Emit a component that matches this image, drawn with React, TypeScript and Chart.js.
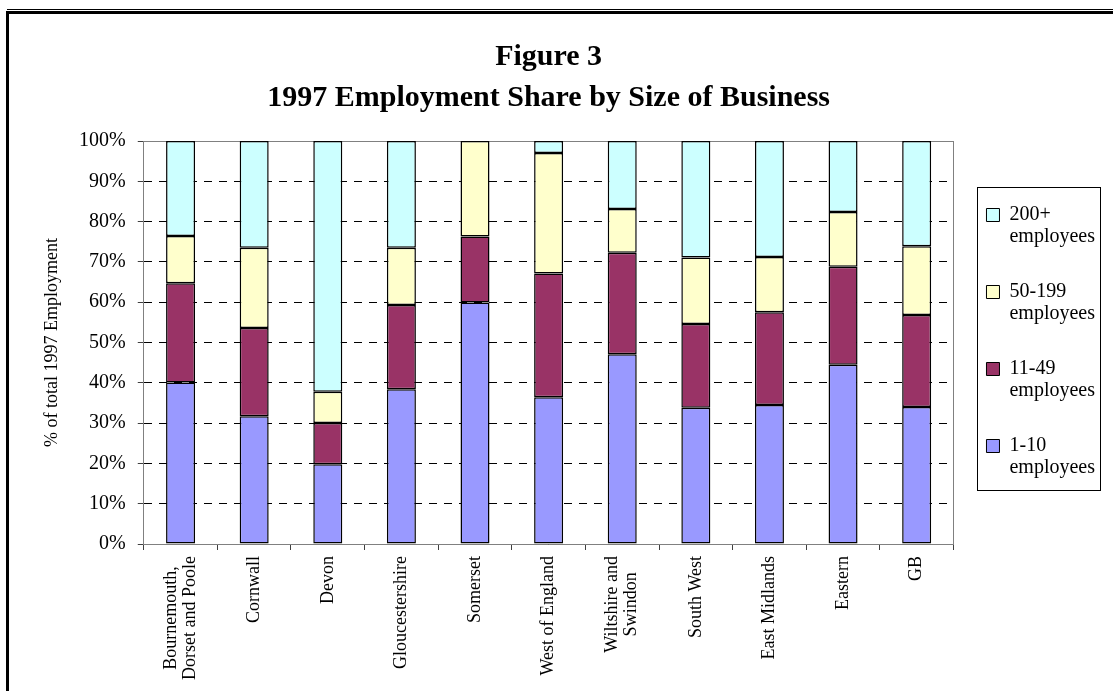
import React, { useEffect, useRef } from 'react';
import { Chart, registerables } from 'chart.js';

Chart.register(...registerables);

const SERIF = '"Liberation Serif", "Times New Roman", serif';

const titleLines = ['Figure 3', '1997 Employment Share by Size of Business'];
const yAxisTitle = '% of total 1997 Employment';

const categories: string[][] = [
  ['Bournemouth,', 'Dorset and Poole'],
  ['Cornwall'],
  ['Devon'],
  ['Gloucestershire'],
  ['Somerset'],
  ['West of England'],
  ['Wiltshire and', 'Swindon'],
  ['South West'],
  ['East Midlands'],
  ['Eastern'],
  ['GB'],
];

const seriesNames = ['1-10 employees', '11-49 employees', '50-199 employees', '200+ employees'];
const emp1to10 = [40.1, 31.7, 19.8, 38.4, 59.9, 36.4, 47.1, 33.8, 34.5, 44.5, 34.0];
const emp11to49 = [24.6, 21.9, 10.2, 20.9, 16.4, 30.7, 25.2, 20.8, 23.0, 24.3, 22.8];
const emp50to199 = [11.7, 19.9, 7.8, 14.2, 23.7, 29.9, 10.8, 16.5, 13.7, 13.6, 17.1];
const emp200plus = [23.6, 26.5, 62.2, 26.5, 0.0, 3.0, 16.9, 28.9, 28.8, 17.6, 26.1];
const seriesColors = ['#9999FF', '#993366', '#FFFFCC', '#CCFFFF'];

const yMin = 0;
const yMax = 100;
const yStep = 10;

const xLabelPlugin = {
  id: 'xLabelPlugin',
  afterDraw(chart: any) {
    const xs = chart.scales.x;
    const ctx = chart.ctx;
    ctx.save();
    ctx.font = `18px ${SERIF}`;
    ctx.fillStyle = '#000';
    const lh = 19;
    const top = xs.bottom + 6;
    categories.forEach((lines, i) => {
      const cx = xs.getPixelForValue(i);
      const maxW = Math.max(...lines.map((l) => ctx.measureText(l).width));
      lines.forEach((line, j) => {
        const px = cx + (j - (lines.length - 1) / 2) * lh;
        ctx.save();
        ctx.translate(px, top + maxW / 2);
        ctx.rotate(-Math.PI / 2);
        ctx.textAlign = 'center';
        ctx.textBaseline = 'middle';
        ctx.fillText(line, 0, 0);
        ctx.restore();
      });
    });
    ctx.restore();
  },
};

const plotBorderPlugin = {
  id: 'plotBorderPlugin',
  beforeDatasetsDraw(chart: any) {
    const { ctx, chartArea } = chart;
    ctx.save();
    ctx.strokeStyle = '#808080';
    ctx.lineWidth = 1;
    const r = Math.round(chartArea.right) + 0.5;
    ctx.beginPath();
    ctx.moveTo(r, chartArea.top);
    ctx.lineTo(r, chartArea.bottom);
    ctx.stroke();
    ctx.restore();
  },
};

const legendBoxPlugin = {
  id: 'legendBoxPlugin',
  afterDraw(chart: any) {
    const hb = chart.legend && chart.legend.legendHitBoxes;
    if (!hb || !hb.length) return;
    const ctx = chart.ctx;
    const left = Math.min(...hb.map((h: any) => h.left)) - 9;
    const right = Math.max(...hb.map((h: any) => h.left + h.width)) + 5;
    const top = hb[0].top - 18;
    const last = hb[hb.length - 1];
    const bottom = last.top + last.height + 10;
    ctx.save();
    ctx.strokeStyle = '#000';
    ctx.lineWidth = 1;
    ctx.strokeRect(Math.round(left) + 0.5, Math.round(top) + 0.5, Math.round(right - left), Math.round(bottom - top));
    ctx.restore();
  },
};

export default function App() {
  const canvasRef = useRef<HTMLCanvasElement | null>(null);

  useEffect(() => {
    const canvas = canvasRef.current;
    if (!canvas) return;
    const seriesData = [emp1to10, emp11to49, emp50to199, emp200plus];
    const chart = new Chart(canvas, {
      type: 'bar',
      data: {
        labels: categories.map((c) => c.join(' ')),
        datasets: seriesNames.map((name, i) => ({
          label: name,
          data: seriesData[i],
          backgroundColor: seriesColors[i],
          borderColor: '#000',
          borderWidth: 1.5,
          borderSkipped: false,
          barPercentage: 0.394,
          categoryPercentage: 1,
        })),
      },
      options: {
        animation: false,
        responsive: false,
        devicePixelRatio: 1,
        layout: { padding: { left: 41, right: 8, top: 0, bottom: 141 } },
        plugins: {
          tooltip: { enabled: false },
          title: {
            display: true,
            text: titleLines,
            fullSize: false,
            color: '#000',
            font: { family: SERIF, size: 30, weight: 'bold', lineHeight: 41 / 30 },
            padding: { top: 36.5, bottom: 22.5 },
          },
          legend: {
            display: true,
            position: 'right',
            fullSize: false,
            reverse: true,
            align: 'center',
            labels: {
              color: '#000',
              font: { family: SERIF, size: 20, lineHeight: 1.1 },
              boxWidth: 13,
              boxHeight: 13,
              padding: 33,
              generateLabels(chart: any) {
                const items = Chart.defaults.plugins.legend.labels.generateLabels(chart);
                return items.map((it: any) => {
                  const t = String(it.text);
                  const k = t.indexOf(' ');
                  return { ...it, text: [t.slice(0, k), t.slice(k + 1)], lineWidth: 1, strokeStyle: '#000' };
                });
              },
            },
          },
        },
        scales: {
          x: {
            stacked: true,
            offset: true,
            grid: {
              display: true,
              drawOnChartArea: false,
              drawTicks: true,
              tickLength: 6,
              offset: true,
              tickColor: '#404040',
            },
            border: { display: true, color: '#808080', width: 1 },
            ticks: { display: false },
          },
          y: {
            stacked: true,
            min: yMin,
            max: yMax,
            ticks: {
              stepSize: yStep,
              color: '#000',
              padding: 12,
              font: { family: SERIF, size: 20 },
              callback: (v: any) => `${v}%`,
            },
            grid: {
              color: (c: any) => (c.tick && c.tick.value === yMax ? '#808080' : '#000'),
              tickLength: 6,
              tickColor: '#404040',
              lineWidth: 1,
            },
            border: {
              display: true,
              color: '#808080',
              width: 1,
              dash: (c: any) => (c.tick && c.tick.value !== yMax && c.tick.value !== yMin ? [8, 7] : []),
            },
            title: {
              display: true,
              text: yAxisTitle,
              color: '#000',
              font: { family: SERIF, size: 18 },
              padding: { top: 0, bottom: 4.5 },
            },
          },
        },
      },
      plugins: [plotBorderPlugin, xLabelPlugin, legendBoxPlugin],
    } as any);
    return () => chart.destroy();
  }, []);

  return (
    <div style={{ position: 'fixed', left: 0, top: 0, width: 1113, height: 691, background: '#fff', overflow: 'hidden' }}>
      <canvas ref={canvasRef} width={1113} height={691} style={{ position: 'absolute', left: 0, top: 0, width: 1113, height: 691 }} />
      <div style={{ position: 'absolute', left: 7, right: 0, top: 9, height: 1, background: '#000' }} />
      <div style={{ position: 'absolute', left: 6, right: 0, top: 11, height: 3, background: '#000' }} />
      <div style={{ position: 'absolute', left: 6, width: 3, top: 11, bottom: 0, background: '#000' }} />
    </div>
  );
}
